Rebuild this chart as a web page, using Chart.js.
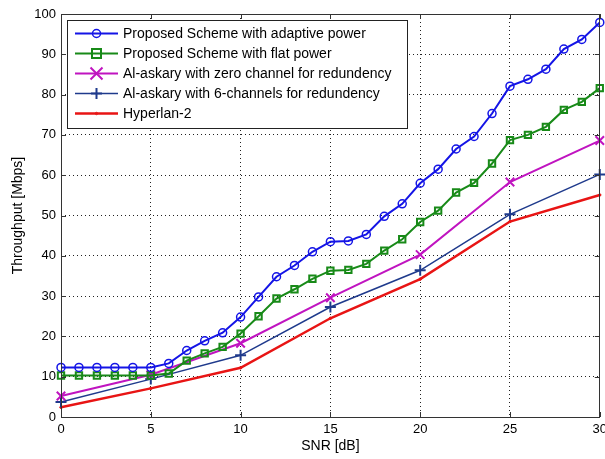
<!DOCTYPE html>
<html>
<head>
<meta charset="utf-8">
<script src="https://cdn.jsdelivr.net/npm/chart.js@4.4.0/dist/chart.umd.min.js"></script>
<style>
html, body { margin: 0; padding: 0; overflow: hidden; background: #fff; }
#wrap { width: 612px; height: 459px; }
</style>
</head>
<body>
<div id="wrap"><canvas id="c" width="612" height="459"></canvas></div>
<script>
// SNR points
var snr_full = [0,1,2,3,4,5,6,7,8,9,10,11,12,13,14,15,16,17,18,19,20,21,22,23,24,25,26,27,28,29,30];
var snr_coarse = [0,5,10,15,20,25,30];

// throughput values [Mbps]
var adaptive_power = [12.3,12.3,12.3,12.3,12.3,12.3,13.3,16.5,18.9,20.9,24.8,29.8,34.8,37.6,41,43.5,43.7,45.3,49.8,52.9,58,61.5,66.5,69.6,75.3,82.1,83.8,86.3,91.3,93.7,97.9];
var flat_power = [10.3,10.3,10.3,10.3,10.3,10.3,10.8,14,15.8,17.4,20.7,25,29.4,31.7,34.3,36.3,36.5,38,41.3,44.1,48.4,51.2,55.7,58.1,62.9,68.7,70,72,76.2,78.2,81.6];
var zero_channel = [5.2,10.5,18.3,29.6,40.3,58.3,68.6];
var six_channels = [3.7,9.4,15.3,27.3,36.4,50.3,60.2];
var hyperlan = [2.4,7.1,12.2,24.5,34.2,48.5,55.1];

var series_names = [
    'Proposed Scheme with adaptive power',
    'Proposed Scheme with flat power',
    'Al-askary with zero channel for redundency',
    'Al-askary with 6-channels for redundency',
    'Hyperlan-2'
];

var x_ticks = [0,5,10,15,20,25,30];
var y_ticks = [0,10,20,30,40,50,60,70,80,90,100];

function pts(xs, ys)
{
    return xs.map(function (x, i) { return { x: x, y: ys[i] }; });
}

var FONT = '"Liberation Sans", Arial, sans-serif';

function draw_marker(ctx, style, r, x, y)
{
    ctx.beginPath();
    if (style == 'circle') {
        ctx.arc(x, y, r, 0, Math.PI * 2);
    } else if (style == 'rect') {
        ctx.rect(x - r, y - r, 2 * r, 2 * r);
    } else if (style == 'crossRot') {
        ctx.moveTo(x - r, y - r); ctx.lineTo(x + r, y + r);
        ctx.moveTo(x + r, y - r); ctx.lineTo(x - r, y + r);
    } else if (style == 'cross') {
        ctx.moveTo(x - r, y); ctx.lineTo(x + r, y);
        ctx.moveTo(x, y - r); ctx.lineTo(x, y + r);
    } else {
        ctx.arc(x, y, r, 0, Math.PI * 2);
        ctx.fill();
    }
    ctx.stroke();
}

// MATLAB-like box round the axes, inward ticks and the legend
var frame_plugin = {
    id: 'frame',
    afterDraw: function (chart)
    {
        var ctx = chart.ctx;
        var a = chart.chartArea;
        var xs = chart.scales.x, ys = chart.scales.y;
        ctx.save();
        ctx.strokeStyle = '#333';
        ctx.lineWidth = 1;
        ctx.strokeRect(Math.round(a.left) + 0.5, Math.round(a.top) + 0.5,
                       Math.round(a.right - a.left) - 1, Math.round(a.bottom - a.top));
        ctx.beginPath();
        x_ticks.forEach(function (v) {
            var px = Math.round(xs.getPixelForValue(v)) + 0.5;
            ctx.moveTo(px, a.top); ctx.lineTo(px, a.top + 5);
            ctx.moveTo(px, a.bottom); ctx.lineTo(px, a.bottom - 5);
        });
        y_ticks.forEach(function (v) {
            var py = Math.round(ys.getPixelForValue(v)) + 0.5;
            ctx.moveTo(a.left, py); ctx.lineTo(a.left + 5, py);
            ctx.moveTo(a.right, py); ctx.lineTo(a.right - 5, py);
        });
        ctx.stroke();

        // legend
        var lx = a.left + 6, ly = a.top + 6, lw = 340, lh = 108;
        ctx.fillStyle = '#fff';
        ctx.fillRect(lx, ly, lw, lh);
        ctx.strokeStyle = '#222';
        ctx.strokeRect(Math.round(lx) + 0.5, Math.round(ly) + 0.5, lw, lh);
        ctx.font = '14px ' + FONT;
        ctx.textBaseline = 'middle';
        ctx.textAlign = 'left';
        chart.data.datasets.forEach(function (ds, i) {
            var cy = ly + 13.5 + i * 20;
            ctx.strokeStyle = ds.borderColor;
            ctx.fillStyle = ds.borderColor;
            ctx.lineWidth = ds.borderWidth;
            ctx.beginPath();
            ctx.moveTo(lx + 8, cy); ctx.lineTo(lx + 51, cy);
            ctx.stroke();
            ctx.lineWidth = ds.pointBorderWidth;
            draw_marker(ctx, ds.pointStyle, ds.pointRadius, lx + 29.5, cy);
            ctx.fillStyle = '#000';
            ctx.fillText(ds.label, lx + 56, cy + 1);
        });
        ctx.restore();
    }
};

var m_chart = new Chart(document.getElementById('c'), {
    type: 'line',
    data: {
        datasets: [
            {
                label: series_names[0],
                data: pts(snr_full, adaptive_power),
                borderColor: '#1414e6', backgroundColor: 'transparent',
                borderWidth: 2, pointStyle: 'circle', pointRadius: 4, pointBorderWidth: 1.5,
                pointBackgroundColor: 'transparent'
            },
            {
                label: series_names[1],
                data: pts(snr_full, flat_power),
                borderColor: '#188a18', backgroundColor: 'transparent',
                borderWidth: 2, pointStyle: 'rect', pointRadius: 4.5, pointBorderWidth: 2,
                pointBackgroundColor: 'transparent'
            },
            {
                label: series_names[2],
                data: pts(snr_coarse, zero_channel),
                borderColor: '#c014c0', backgroundColor: 'transparent',
                borderWidth: 2, pointStyle: 'crossRot', pointRadius: 6, pointBorderWidth: 2
            },
            {
                label: series_names[3],
                data: pts(snr_coarse, six_channels),
                borderColor: '#1f3a8c', backgroundColor: 'transparent',
                borderWidth: 1.5, pointStyle: 'cross', pointRadius: 5.5, pointBorderWidth: 2
            },
            {
                label: series_names[4],
                data: pts(snr_coarse, hyperlan),
                borderColor: '#e81414', backgroundColor: '#e81414',
                borderWidth: 2.5, pointStyle: 'circle', pointRadius: 1.2, pointBorderWidth: 1,
                pointBackgroundColor: '#e81414'
            }
        ]
    },
    options: {
        responsive: false,
        animation: false,
        clip: false,
        layout: { padding: { top: 14, left: 0, right: 0, bottom: 0 } },
        plugins: {
            legend: { display: false },
            tooltip: { enabled: false }
        },
        elements: { line: { tension: 0 } },
        scales: {
            x: {
                type: 'linear', min: 0, max: 30,
                afterBuildTicks: function (s) { s.ticks = x_ticks.map(function (v) { return { value: v }; }); },
                afterFit: function (s) { s.height = 42; },
                ticks: { color: '#000', font: { family: FONT, size: 13 }, padding: 5, maxRotation: 0 },
                grid: { color: '#222', lineWidth: 1, drawTicks: false },
                border: { display: false, dash: [1, 3] },
                title: { display: true, text: 'SNR [dB]', color: '#000', font: { family: FONT, size: 14 }, padding: { top: 0, bottom: 4 } }
            },
            y: {
                type: 'linear', min: 0, max: 100,
                afterBuildTicks: function (s) { s.ticks = y_ticks.map(function (v) { return { value: v }; }); },
                afterFit: function (s) { s.width = 61; },
                ticks: { color: '#000', font: { family: FONT, size: 13 }, padding: 5 },
                grid: { color: '#222', lineWidth: 1, drawTicks: false },
                border: { display: false, dash: [1, 3] },
                title: { display: true, text: 'Throughput [Mbps]', color: '#000', font: { family: FONT, size: 14 }, padding: { top: 10, bottom: 0 } }
            }
        }
    },
    plugins: [frame_plugin]
});
</script>
</body>
</html>
